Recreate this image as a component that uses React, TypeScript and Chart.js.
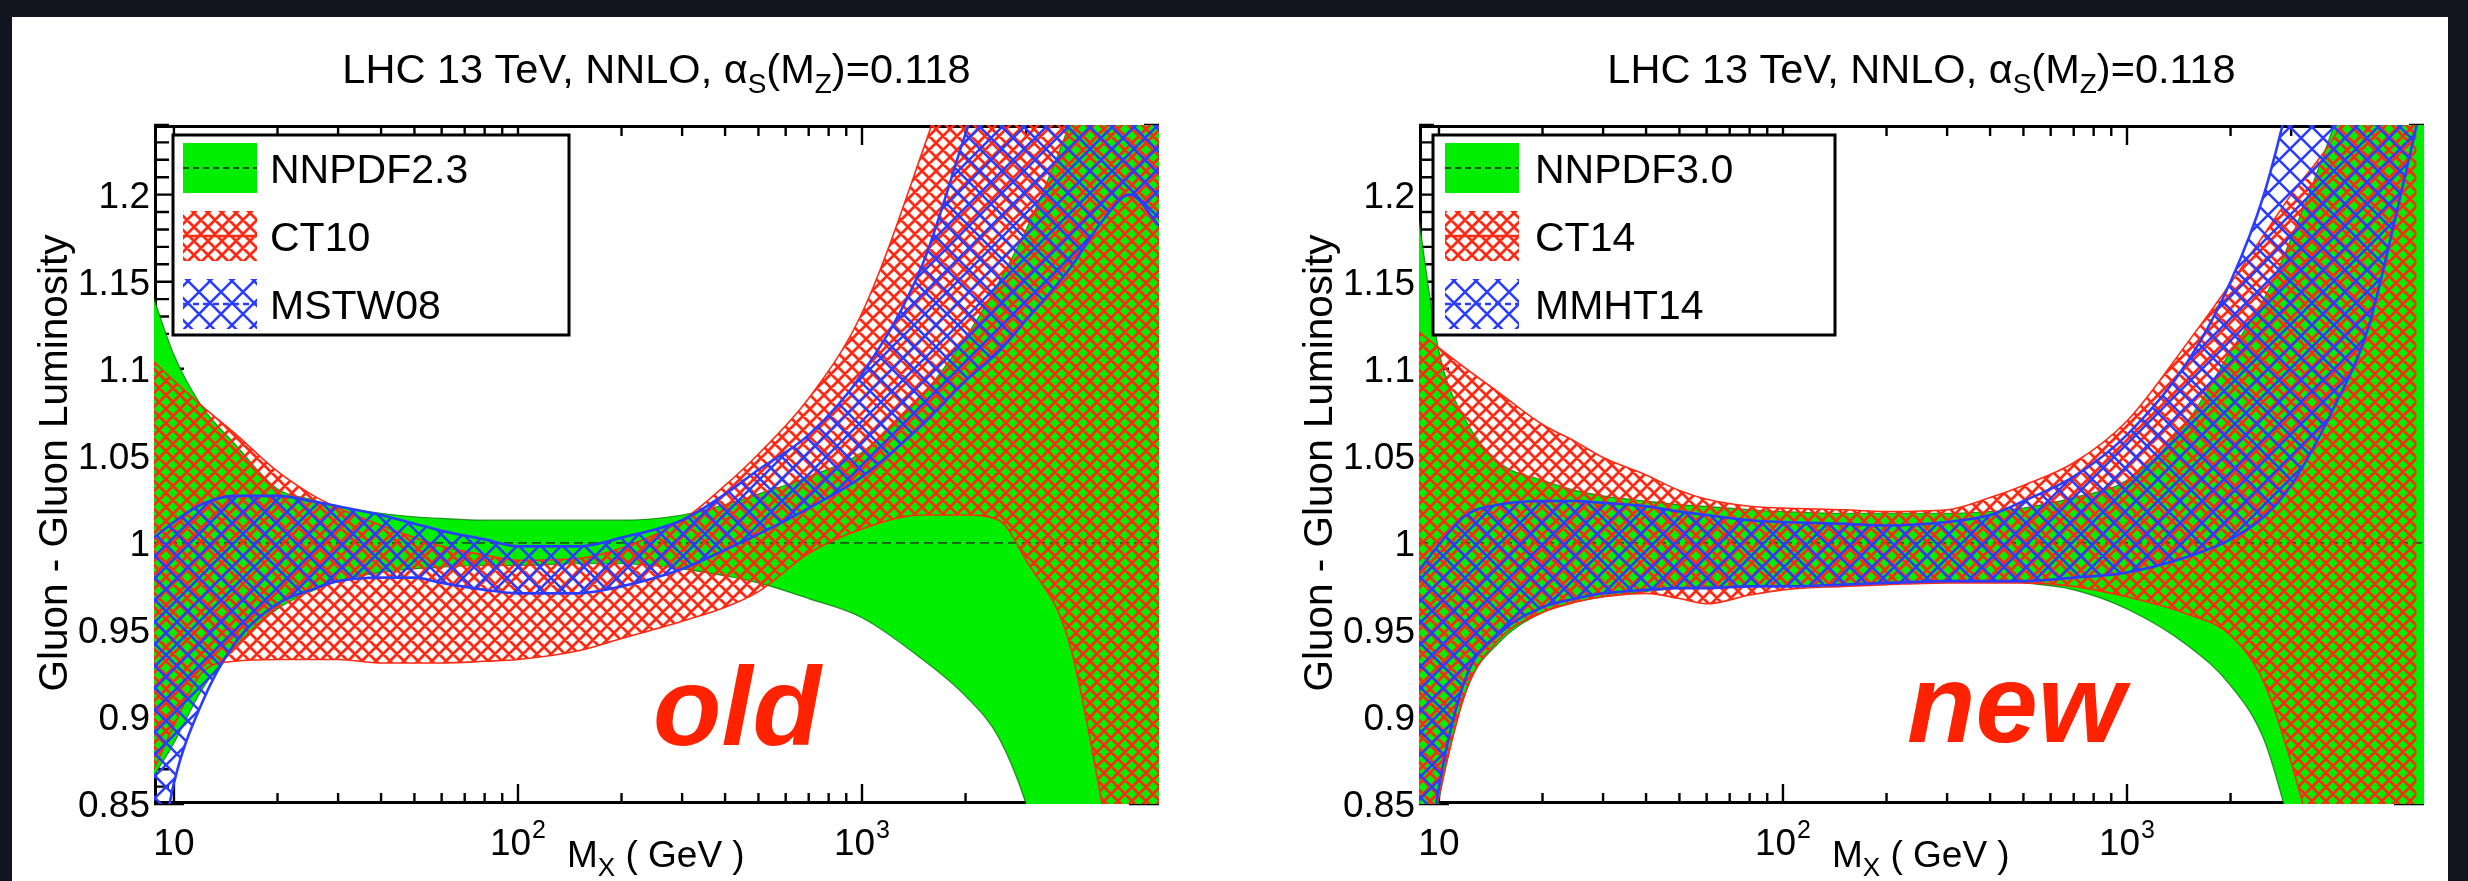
import React, { useEffect, useRef } from 'react';
import Chart from 'chart.js/auto';

// Invariant mass grid (GeV) of the luminosity bands
const MASS = [8.75, 10, 12, 15, 20, 25, 30, 40, 50, 60, 80, 100, 150, 200, 300, 400, 500, 700, 1000, 1500, 2000, 2500, 3000, 4000, 5000, 6000, 7300];
// CT14 and MMHT14 stop slightly before the upper mass edge
const MASS_SHORT = [8.75, 10, 12, 15, 20, 25, 30, 40, 50, 60, 80, 100, 150, 200, 300, 400, 500, 700, 1000, 1500, 2000, 2500, 3000, 4000, 5000, 6000, 6950];

// Previous generation, ratio to NNPDF2.3 central value
const NNPDF23_UPPER = [1.140, 1.108, 1.079, 1.057, 1.031, 1.025, 1.021, 1.017, 1.015, 1.014, 1.013, 1.013, 1.013, 1.013, 1.016, 1.022, 1.028, 1.038, 1.052, 1.085, 1.118, 1.150, 1.180, 1.240, 1.300, 1.360, 1.420];
const NNPDF23_LOWER = [0.866, 0.885, 0.915, 0.940, 0.962, 0.972, 0.978, 0.983, 0.985, 0.986, 0.987, 0.987, 0.988, 0.988, 0.985, 0.981, 0.977, 0.968, 0.957, 0.933, 0.912, 0.888, 0.850, 0.760, 0.680, 0.600, 0.500];
const CT10_UPPER = [1.104, 1.093, 1.079, 1.063, 1.041, 1.028, 1.020, 1.010, 1.003, 0.998, 0.993, 0.990, 0.991, 0.997, 1.013, 1.033, 1.051, 1.083, 1.132, 1.225, 1.300, 1.370, 1.420, 1.500, 1.560, 1.620, 1.700];
const CT10_LOWER = [0.870, 0.895, 0.925, 0.932, 0.933, 0.933, 0.933, 0.931, 0.931, 0.931, 0.932, 0.933, 0.938, 0.945, 0.955, 0.963, 0.972, 0.994, 1.008, 1.016, 1.016, 1.013, 0.990, 0.943, 0.849, 0.760, 0.650];
const MSTW08_UPPER = [1.003, 1.012, 1.022, 1.027, 1.027, 1.024, 1.021, 1.016, 1.011, 1.007, 1.002, 0.998, 0.998, 1.003, 1.013, 1.028, 1.042, 1.062, 1.097, 1.160, 1.235, 1.290, 1.330, 1.420, 1.500, 1.570, 1.650];
const MSTW08_LOWER = [0.800, 0.862, 0.907, 0.942, 0.965, 0.973, 0.978, 0.980, 0.980, 0.977, 0.973, 0.971, 0.971, 0.975, 0.985, 0.996, 1.005, 1.020, 1.038, 1.068, 1.093, 1.110, 1.128, 1.157, 1.185, 1.200, 1.182];

// Current generation, ratio to NNPDF3.0 central value
const NNPDF30_UPPER = [1.185, 1.110, 1.070, 1.046, 1.036, 1.030, 1.027, 1.024, 1.022, 1.021, 1.019, 1.018, 1.017, 1.017, 1.017, 1.018, 1.020, 1.026, 1.036, 1.070, 1.110, 1.140, 1.175, 1.240, 1.300, 1.380, 1.500];
const NNPDF30_LOWER = [0.780, 0.852, 0.915, 0.943, 0.960, 0.966, 0.969, 0.972, 0.974, 0.975, 0.975, 0.975, 0.976, 0.977, 0.978, 0.978, 0.977, 0.973, 0.962, 0.941, 0.918, 0.887, 0.835, 0.750, 0.680, 0.600, 0.500];
const CT14_UPPER = [1.121, 1.112, 1.100, 1.086, 1.068, 1.058, 1.049, 1.039, 1.030, 1.025, 1.021, 1.020, 1.019, 1.018, 1.019, 1.026, 1.033, 1.046, 1.070, 1.115, 1.149, 1.177, 1.200, 1.233, 1.270, 1.300, 1.330];
const CT14_LOWER = [0.800, 0.855, 0.915, 0.945, 0.960, 0.966, 0.969, 0.971, 0.968, 0.965, 0.970, 0.973, 0.975, 0.976, 0.977, 0.977, 0.977, 0.975, 0.969, 0.959, 0.947, 0.920, 0.874, 0.780, 0.700, 0.620, 0.550];
const MMHT14_UPPER = [0.984, 0.999, 1.016, 1.022, 1.024, 1.024, 1.023, 1.021, 1.018, 1.016, 1.013, 1.012, 1.011, 1.010, 1.012, 1.016, 1.024, 1.038, 1.062, 1.104, 1.150, 1.200, 1.260, 1.370, 1.470, 1.560, 1.650];
const MMHT14_LOWER = [0.780, 0.860, 0.923, 0.948, 0.963, 0.968, 0.971, 0.973, 0.974, 0.974, 0.975, 0.975, 0.976, 0.977, 0.978, 0.978, 0.978, 0.980, 0.983, 0.992, 1.002, 1.015, 1.033, 1.078, 1.122, 1.185, 1.240];

// Central value of the reference set (ratio to itself)
const REFERENCE_RATIO = 1.0;

// Axes
const X_MIN = 8.75;
const X_MAX = 7300;
const Y_MIN = 0.85;
const Y_MAX = 1.24;
const Y_TICKS = [0.85, 0.9, 0.95, 1.0, 1.05, 1.1, 1.15, 1.2];
const Y_TICK_LABELS = ['0.85', '0.9', '0.95', '1', '1.05', '1.1', '1.15', '1.2'];
const X_TICKS = [10, 100, 1000];
const X_TICK_BASES = ['10', '10', '10'];
const X_TICK_EXPONENTS = ['', '2', '3'];

const FONT = '"Liberation Sans", Arial, Helvetica, sans-serif';
const GREEN = '#00ee00';
const RED = '#ff2a14';
const BLUE = '#2a3cff';
const TAG_RED = '#ff2200';

type BandStyle = 'solid' | 'red' | 'blue';

interface Band {
  name: string;
  mass: number[];
  upper: number[];
  lower: number[];
  style: BandStyle;
}

interface Panel {
  bands: Band[];
  tag: string;
  pad: { left: number; top: number; right: number; bottom: number };
  legendDx: number;
  legendW: number;
  swatchDx: number;
  textDx: number;
  tagDx: number;
  tagDy: number;
}

const PANELS: Panel[] = [
  {
    bands: [
      { name: 'NNPDF2.3', mass: MASS, upper: NNPDF23_UPPER, lower: NNPDF23_LOWER, style: 'solid' },
      { name: 'CT10', mass: MASS, upper: CT10_UPPER, lower: CT10_LOWER, style: 'red' },
      { name: 'MSTW08', mass: MASS, upper: MSTW08_UPPER, lower: MSTW08_LOWER, style: 'blue' },
    ],
    tag: 'old',
    pad: { left: 142, top: 108, right: 75, bottom: 77 },
    legendDx: 19,
    legendW: 396,
    swatchDx: 10,
    textDx: 97,
    tagDx: 499,
    tagDy: 59,
  },
  {
    bands: [
      { name: 'NNPDF3.0', mass: MASS, upper: NNPDF30_UPPER, lower: NNPDF30_LOWER, style: 'solid' },
      { name: 'CT14', mass: MASS_SHORT, upper: CT14_UPPER, lower: CT14_LOWER, style: 'red' },
      { name: 'MMHT14', mass: MASS_SHORT, upper: MMHT14_UPPER, lower: MMHT14_LOWER, style: 'blue' },
    ],
    tag: 'new',
    pad: { left: 185, top: 108, right: 24, bottom: 77 },
    legendDx: 14,
    legendW: 402,
    swatchDx: 12,
    textDx: 102,
    tagDx: 488,
    tagDy: 62,
  },
];

function makeHatch(ctx: CanvasRenderingContext2D, size: number, color: string, width: number) {
  const tile = document.createElement('canvas');
  tile.width = size;
  tile.height = size;
  const g = tile.getContext('2d')!;
  g.strokeStyle = color;
  g.lineWidth = width;
  g.beginPath();
  for (let k = -1; k <= 1; k++) {
    g.moveTo(k * size - 2, -2);
    g.lineTo(k * size + size + 2, size + 2);
    g.moveTo(k * size + size + 2, -2);
    g.lineTo(k * size - 2, size + 2);
  }
  g.stroke();
  return ctx.createPattern(tile, 'repeat')!;
}

function bandDatasets(band: Band, patterns: Record<string, CanvasPattern>) {
  const look =
    band.style === 'solid'
      ? { fill: GREEN as any, edge: 'rgba(0,95,0,0.7)', width: 1.2, order: 3 }
      : band.style === 'red'
      ? { fill: patterns.red as any, edge: RED, width: 1.6, order: 2 }
      : { fill: patterns.blue as any, edge: BLUE, width: 2.6, order: 1 };
  const upper = band.mass.map((m, i) => ({ x: m, y: band.upper[i] }));
  const lower = band.mass.map((m, i) => ({ x: m, y: band.lower[i] }));
  return [
    {
      label: band.name + ' upper',
      data: upper,
      fill: false,
      borderColor: look.edge,
      borderWidth: look.width,
      pointRadius: 0,
      cubicInterpolationMode: 'monotone',
      order: look.order,
      clip: 0,
    },
    {
      label: band.name + ' lower',
      data: lower,
      fill: '-1',
      backgroundColor: look.fill,
      borderColor: look.edge,
      borderWidth: look.width,
      pointRadius: 0,
      cubicInterpolationMode: 'monotone',
      order: look.order,
      clip: 0,
    },
  ];
}

function drawRich(
  ctx: CanvasRenderingContext2D,
  parts: { t: string; size: number; dy: number }[],
  x: number,
  y: number,
  align: 'left' | 'center'
) {
  let total = 0;
  const widths = parts.map((p) => {
    ctx.font = `${p.size}px ${FONT}`;
    const w = ctx.measureText(p.t).width;
    total += w;
    return w;
  });
  let cx = align === 'center' ? x - total / 2 : x;
  ctx.textAlign = 'left';
  ctx.textBaseline = 'alphabetic';
  parts.forEach((p, i) => {
    ctx.font = `${p.size}px ${FONT}`;
    ctx.fillText(p.t, cx, y + p.dy);
    cx += widths[i];
  });
}

function decorPlugin(panel: Panel, patterns: Record<string, CanvasPattern>) {
  return {
    id: 'panelDecor',
    beforeDatasetsDraw(chart: any) {
      const { ctx, chartArea: a, scales } = chart;
      const xs = scales.x;
      const ys = scales.y;
      ctx.save();
      ctx.strokeStyle = '#000';
      ctx.lineWidth = 2.4;
      ctx.beginPath();
      for (let d = 10; d <= 1000; d *= 10) {
        for (let k = 1; k <= 9; k++) {
          const v = k * d;
          if (v < X_MIN || v > X_MAX) continue;
          const px = xs.getPixelForValue(v);
          const len = k === 1 ? 20 : 11;
          ctx.moveTo(px, a.bottom);
          ctx.lineTo(px, a.bottom - len);
          ctx.moveTo(px, a.top);
          ctx.lineTo(px, a.top + len);
        }
      }
      for (let i = Math.round(Y_MIN * 100); i <= Math.round(Y_MAX * 100); i++) {
        const py = ys.getPixelForValue(i / 100);
        const len = i % 5 === 0 ? 30 : 15;
        ctx.moveTo(a.left, py);
        ctx.lineTo(a.left + len, py);
        ctx.moveTo(a.right, py);
        ctx.lineTo(a.right - len, py);
      }
      ctx.stroke();
      ctx.lineWidth = 3;
      ctx.strokeRect(a.left + 1.5, a.top + 1.5, a.right - a.left - 3, a.bottom - a.top - 3);
      ctx.restore();
    },
    afterDraw(chart: any) {
      const { ctx, chartArea: a, scales } = chart;
      const xs = scales.x;
      const ys = scales.y;
      ctx.save();
      ctx.fillStyle = '#000';

      // title
      drawRich(
        ctx,
        [
          { t: 'LHC 13 TeV, NNLO, \u03b1', size: 41.5, dy: 0 },
          { t: 'S', size: 28, dy: 10 },
          { t: '(M', size: 41.5, dy: 0 },
          { t: 'Z', size: 28, dy: 10 },
          { t: ')=0.118', size: 41.5, dy: 0 },
        ],
        (a.left + a.right) / 2,
        a.top - 42,
        'center'
      );

      // y tick labels
      ctx.font = `37px ${FONT}`;
      ctx.textAlign = 'right';
      ctx.textBaseline = 'alphabetic';
      Y_TICKS.forEach((v, i) => {
        ctx.fillText(Y_TICK_LABELS[i], a.left - 4, ys.getPixelForValue(v) + 13);
      });

      // x tick labels
      X_TICKS.forEach((v, i) => {
        const px = xs.getPixelForValue(v);
        ctx.font = `37px ${FONT}`;
        const wb = ctx.measureText(X_TICK_BASES[i]).width;
        ctx.font = `25px ${FONT}`;
        const we = X_TICK_EXPONENTS[i] ? ctx.measureText(X_TICK_EXPONENTS[i]).width + 1 : 0;
        const x0 = px - (wb + we) / 2;
        ctx.textAlign = 'left';
        ctx.font = `37px ${FONT}`;
        ctx.fillText(X_TICK_BASES[i], x0, a.bottom + 51);
        if (X_TICK_EXPONENTS[i]) {
          ctx.font = `25px ${FONT}`;
          ctx.fillText(X_TICK_EXPONENTS[i], x0 + wb + 1, a.bottom + 34);
        }
      });

      // x axis title
      drawRich(
        ctx,
        [
          { t: 'M', size: 37, dy: 0 },
          { t: 'X', size: 26, dy: 9 },
          { t: ' ( GeV )', size: 37, dy: 0 },
        ],
        a.left + 413,
        a.bottom + 63,
        'left'
      );

      // y axis title
      ctx.save();
      ctx.translate(a.left - 87, a.top + 338);
      ctx.rotate(-Math.PI / 2);
      ctx.font = `40.5px ${FONT}`;
      ctx.textAlign = 'center';
      ctx.fillText('Gluon - Gluon Luminosity', 0, 0);
      ctx.restore();

      // legend
      const lx = a.left + panel.legendDx;
      const ly = a.top + 10;
      ctx.fillStyle = '#fff';
      ctx.fillRect(lx, ly, panel.legendW, 200);
      ctx.strokeStyle = '#000';
      ctx.lineWidth = 3;
      ctx.strokeRect(lx, ly, panel.legendW, 200);
      const rows = [a.top + 43, a.top + 111, a.top + 179];
      panel.bands.forEach((band, i) => {
        const sx = lx + panel.swatchDx;
        const sw = 74;
        const sy = rows[i] - 25;
        const sh = 50;
        ctx.save();
        if (band.style === 'solid') {
          ctx.fillStyle = GREEN;
          ctx.fillRect(sx, sy, sw, sh);
          ctx.strokeStyle = 'rgba(20,70,20,0.9)';
          ctx.setLineDash([6, 4]);
          ctx.lineWidth = 2;
        } else {
          ctx.fillStyle = patterns[band.style];
          ctx.fillRect(sx, sy, sw, sh);
          ctx.strokeStyle = band.style === 'red' ? RED : BLUE;
          ctx.lineWidth = 2.5;
          if (band.style === 'blue') ctx.setLineDash([6, 4]);
        }
        ctx.beginPath();
        ctx.moveTo(sx, rows[i]);
        ctx.lineTo(sx + sw, rows[i]);
        ctx.stroke();
        ctx.restore();
        ctx.fillStyle = '#000';
        ctx.font = `41px ${FONT}`;
        ctx.textAlign = 'left';
        ctx.fillText(band.name, lx + panel.textDx, rows[i] + 15);
      });

      // panel tag
      ctx.fillStyle = TAG_RED;
      ctx.font = `italic bold 112px ${FONT}`;
      ctx.textAlign = 'left';
      ctx.fillText(panel.tag, a.left + panel.tagDx, a.bottom - panel.tagDy);
      ctx.restore();
    },
  };
}

export default function App() {
  const leftRef = useRef<HTMLCanvasElement>(null);
  const rightRef = useRef<HTMLCanvasElement>(null);

  useEffect(() => {
    const charts: Chart[] = [];
    [leftRef.current, rightRef.current].forEach((canvas, idx) => {
      if (!canvas) return;
      const panel = PANELS[idx];
      const ctx = canvas.getContext('2d')!;
      const patterns: Record<string, CanvasPattern> = {
        red: makeHatch(ctx, 14, RED, 2.8),
        blue: makeHatch(ctx, 22, BLUE, 2.5),
      };
      const datasets: any[] = [];
      panel.bands.forEach((band) => datasets.push(...bandDatasets(band, patterns)));
      datasets.push({
        label: panel.bands[0].name + ' central',
        data: [
          { x: X_MIN, y: REFERENCE_RATIO },
          { x: X_MAX, y: REFERENCE_RATIO },
        ],
        fill: false,
        borderColor: 'rgba(30,60,30,0.85)',
        borderWidth: 1.6,
        borderDash: [9, 5],
        pointRadius: 0,
        order: 2.5,
        clip: 0,
      });
      const chart = new Chart(canvas, {
        type: 'line',
        data: { datasets },
        options: {
          responsive: false,
          animation: false,
          devicePixelRatio: 1,
          events: [],
          layout: { padding: panel.pad },
          plugins: {
            legend: { display: false },
            title: { display: false },
            tooltip: { enabled: false },
          },
          scales: {
            x: { type: 'logarithmic', min: X_MIN, max: X_MAX, display: false },
            y: { type: 'linear', min: Y_MIN, max: Y_MAX, display: false },
          },
          elements: { point: { radius: 0 } },
        },
        plugins: [decorPlugin(panel, patterns)],
      } as any);
      charts.push(chart);
    });
    return () => charts.forEach((c) => c.destroy());
  }, []);

  return (
    <div
      style={{
        position: 'fixed',
        left: 0,
        top: 0,
        width: 2468,
        height: 881,
        background: '#11131f',
        overflow: 'hidden',
      }}
    >
      <div style={{ position: 'absolute', left: 12, top: 17, width: 2436, height: 864, background: '#ffffff' }} />
      <canvas
        ref={leftRef}
        width={1222}
        height={864}
        style={{ position: 'absolute', left: 12, top: 17, width: 1222, height: 864 }}
      />
      <canvas
        ref={rightRef}
        width={1214}
        height={864}
        style={{ position: 'absolute', left: 1234, top: 17, width: 1214, height: 864 }}
      />
    </div>
  );
}
